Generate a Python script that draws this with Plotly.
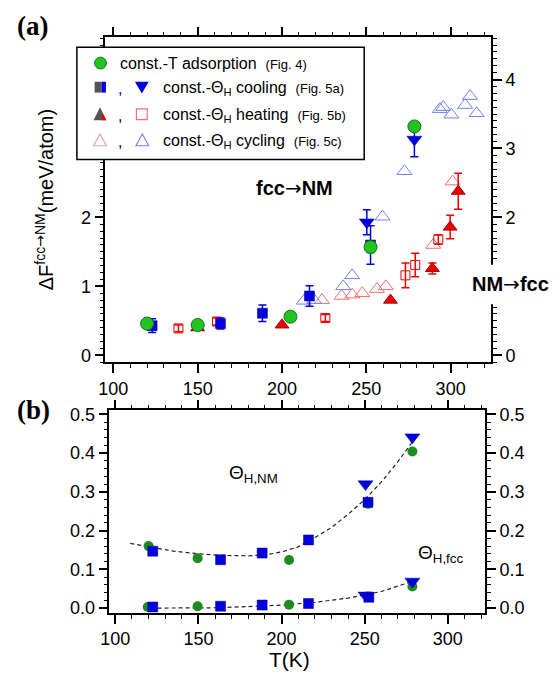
import plotly.graph_objects as go

W, H = 559, 684
FONT = "Liberation Sans, Arial, sans-serif"

# ---------------- Panel (a) data ----------------
adsT_T = [120, 150, 205, 252.5, 278.5]
adsT_F = [0.46, 0.44, 0.56, 1.57, 3.32]
adsT_err = [0, 0, 0, 0.08, 0.05]

cool_sq_T = [123, 163.5, 188.4, 216.3, 252.5]
cool_sq_F = [0.43, 0.46, 0.61, 0.86, 1.60]
cool_sq_err = [0.10, 0.08, 0.12, 0.15, 0.28]

cool_tri_T = [250.3, 278.5]
cool_tri_F = [1.93, 3.13]
cool_tri_err = [0.18, 0.25]

heat_tri_T = [150, 200, 264.3, 289.2, 299.7, 304.5]
heat_tri_F = [0.40, 0.44, 0.80, 1.26, 1.86, 2.38]
heat_tri_err = [0, 0, 0, 0.08, 0.17, 0.26]

heat_sq_T = [138.6, 161.5, 225.7, 273.2, 279.0, 292.7]
heat_sq_F = [0.39, 0.49, 0.54, 1.16, 1.31, 1.68]
heat_sq_err = [0.05, 0.05, 0.05, 0.18, 0.17, 0.07]

cyc_red_T = [223.7, 235.3, 241.7, 247.6, 256.3, 261.6, 289.7, 301.2]
cyc_red_F = [0.80, 0.86, 0.88, 0.90, 0.96, 1.00, 1.60, 2.52]

cyc_blue_T = [213, 219, 236.3, 241.6, 259.6, 272.6, 293.6, 295.6, 300.4, 308.6, 311.5, 315.4]
cyc_blue_F = [0.79, 0.80, 1.00, 1.16, 2.01, 2.67, 3.57, 3.60, 3.49, 3.63, 3.76, 3.51]

# ---------------- Panel (b) data ----------------
nm_green_T = [120, 149.5, 204.5, 252.1, 278.7]
nm_green_V = [0.160, 0.129, 0.124, 0.269, 0.404]
fcc_green_T = [119.5, 149.5, 204.5, 252.0, 278.7]
fcc_green_V = [0.003, 0.005, 0.009, 0.030, 0.056]

nm_sq_T = [122.5, 163.3, 188.3, 216.2, 252.0]
nm_sq_V = [0.147, 0.125, 0.142, 0.176, 0.273]
fcc_sq_T = [122.5, 163.3, 188.3, 216.2, 252.5]
fcc_sq_V = [0.003, 0.005, 0.008, 0.012, 0.028]

nm_tri_T = [250.5, 278.7]
nm_tri_V = [0.320, 0.441]
fcc_tri_T = [250.5, 278.7]
fcc_tri_V = [0.033, 0.069]

fit_nm_T = [109, 120, 135, 150, 165, 180, 190, 200, 210, 220, 230, 240, 250, 260, 270, 281]
fit_nm_V = [0.167, 0.158, 0.147, 0.140, 0.136, 0.135, 0.137, 0.145, 0.158, 0.182, 0.208, 0.242, 0.280, 0.325, 0.378, 0.442]
fit_fcc_T = [117, 140, 160, 180, 200, 220, 240, 260, 283]
fit_fcc_V = [0.0, 0.0, 0.001, 0.004, 0.008, 0.015, 0.026, 0.043, 0.075]

# tick labels
top_left_ticks = [0, 1, 2, 3, 4]
top_left_text = ["0", "1", "2", "3", "4"]
top_right_ticks = [0, 2, 3, 4]

GREEN = "#22c422"
GREEN_D = "#1e8c1e"
BLUE = "#0000e0"
RED = "#ee0000"
LRED = "#f07070"
LBLUE = "#7080ee"

fig = go.Figure()


def err(arr, color):
    return dict(type="data", array=arr, visible=True, color=color, thickness=1.5, width=4)


# panel (a) traces
fig.add_trace(go.Scatter(x=cyc_red_T, y=cyc_red_F, mode="markers",
                         marker=dict(symbol="triangle-up-open", size=13, color=LRED, line=dict(width=1)),
                         xaxis="x", yaxis="y"))
fig.add_trace(go.Scatter(x=cyc_blue_T, y=cyc_blue_F, mode="markers",
                         marker=dict(symbol="triangle-up-open", size=13, color=LBLUE, line=dict(width=1)),
                         xaxis="x", yaxis="y"))
fig.add_trace(go.Scatter(x=heat_sq_T, y=heat_sq_F, mode="markers", error_y=err(heat_sq_err, RED),
                         marker=dict(symbol="square-open", size=9, color=RED, line=dict(width=1)),
                         xaxis="x", yaxis="y"))
fig.add_trace(go.Scatter(x=heat_tri_T, y=heat_tri_F, mode="markers", error_y=err(heat_tri_err, RED),
                         marker=dict(symbol="triangle-up", size=12, color=RED, line=dict(width=1, color="#990000")),
                         xaxis="x", yaxis="y"))
fig.add_trace(go.Scatter(x=cool_sq_T, y=cool_sq_F, mode="markers", error_y=err(cool_sq_err, BLUE),
                         marker=dict(symbol="square", size=10, color=BLUE, line=dict(width=0.5, color="#000080")),
                         xaxis="x", yaxis="y"))
fig.add_trace(go.Scatter(x=cool_tri_T, y=cool_tri_F, mode="markers", error_y=err(cool_tri_err, BLUE),
                         marker=dict(symbol="triangle-down", size=13, color=BLUE, line=dict(width=0.5, color="#000080")),
                         xaxis="x", yaxis="y"))
fig.add_trace(go.Scatter(x=adsT_T, y=adsT_F, mode="markers", error_y=err(adsT_err, GREEN_D),
                         marker=dict(symbol="circle", size=13, color=GREEN, line=dict(width=1, color="#137013")),
                         xaxis="x", yaxis="y"))

# panel (b) traces
for tx, ty in [(fit_nm_T, fit_nm_V), (fit_fcc_T, fit_fcc_V)]:
    fig.add_trace(go.Scatter(x=tx, y=ty, mode="lines", line=dict(color="#222", width=1.2, dash="4px,3px"),
                             xaxis="x2", yaxis="y3"))
for tx, ty in [(nm_green_T, nm_green_V), (fcc_green_T, fcc_green_V)]:
    fig.add_trace(go.Scatter(x=tx, y=ty, mode="markers",
                             marker=dict(symbol="circle", size=10, color=GREEN_D, line=dict(width=0)),
                             xaxis="x2", yaxis="y3"))
for tx, ty in [(nm_sq_T, nm_sq_V), (fcc_sq_T, fcc_sq_V)]:
    fig.add_trace(go.Scatter(x=tx, y=ty, mode="markers",
                             marker=dict(symbol="square", size=10, color=BLUE, line=dict(width=0.5, color="#000080")),
                             xaxis="x2", yaxis="y3"))
for tx, ty in [(nm_tri_T, nm_tri_V), (fcc_tri_T, fcc_tri_V)]:
    fig.add_trace(go.Scatter(x=tx, y=ty, mode="markers",
                             marker=dict(symbol="triangle-down", size=13, color=BLUE, line=dict(width=0.5, color="#000080")),
                             xaxis="x2", yaxis="y3"))


def X(px):
    return px / W


def Y(py):
    return 1 - py / H


axis_common = dict(showline=True, linecolor="black", linewidth=1.5, ticks="outside", ticklen=9,
                   tickwidth=1.5, tickcolor="black", showgrid=False, zeroline=False,
                   tickfont=dict(family=FONT, size=18, color="black"))
minor_y = dict(ticks="outside", dtick=0.1, tick0=0, ticklen=4, tickwidth=1.2, tickcolor="black")

fig.update_layout(
    width=W, height=H, margin=dict(l=0, r=0, t=0, b=0),
    paper_bgcolor="white", plot_bgcolor="white", showlegend=False,
    xaxis=dict(domain=[X(98), X(490)], range=[95.3, 324], anchor="y", mirror="ticks",
               dtick=50, tick0=0, minor=dict(ticks="outside", dtick=10, ticklen=4, tickwidth=1.2, tickcolor="black"),
               **axis_common),
    yaxis=dict(domain=[Y(362), Y(32)], range=[-0.1, 4.61], anchor="x",
               tickmode="array", tickvals=top_left_ticks, ticktext=top_left_text,
               minor=minor_y, **axis_common),
    yaxis2=dict(domain=[Y(362), Y(32)], range=[-0.1, 4.61], anchor="x", overlaying="y", side="right",
                tickmode="array", tickvals=top_right_ticks,
                minor=minor_y, **axis_common),
    xaxis2=dict(domain=[X(102), X(484)], range=[96.4, 322.5], anchor="y3", mirror="ticks",
                dtick=50, tick0=0, minor=dict(ticks="outside", dtick=10, ticklen=4, tickwidth=1.2, tickcolor="black"),
                **axis_common),
    yaxis3=dict(domain=[Y(617), Y(411)], range=[-0.0127, 0.510], anchor="x2", dtick=0.1, tick0=0,
                tickformat=".1f",
                minor=dict(ticks="outside", dtick=0.02, tick0=0, ticklen=4, tickwidth=1.2, tickcolor="black"),
                **axis_common),
    yaxis4=dict(domain=[Y(617), Y(411)], range=[-0.0127, 0.510], anchor="x2", overlaying="y3", side="right",
                dtick=0.1, tick0=0, tickformat=".1f",
                minor=dict(ticks="outside", dtick=0.02, tick0=0, ticklen=4, tickwidth=1.2, tickcolor="black"),
                **axis_common),
)

fig.add_trace(go.Scatter(x=[None], y=[None], xaxis="x", yaxis="y2", showlegend=False))
fig.add_trace(go.Scatter(x=[None], y=[None], xaxis="x2", yaxis="y4", showlegend=False))

shapes = []
shapes.append(dict(type="rect", xref="paper", yref="paper", x0=X(69), x1=X(361), y0=Y(156), y1=Y(42),
                   line=dict(color="black", width=1.5), fillcolor="white", layer="above"))
shapes.append(dict(type="circle", xref="paper", yref="paper", x0=X(87), x1=X(99), y0=Y(64), y1=Y(52),
                   line=dict(color="#137013", width=1), fillcolor=GREEN, layer="above"))
shapes.append(dict(type="rect", xref="paper", yref="paper", x0=X(87), x1=X(94), y0=Y(88), y1=Y(77),
                   line=dict(width=0), fillcolor="#555555", layer="above"))
shapes.append(dict(type="rect", xref="paper", yref="paper", x0=X(94), x1=X(98.5), y0=Y(88), y1=Y(77),
                   line=dict(width=0), fillcolor=BLUE, layer="above"))


def tri(x0, x1, ytop, ybot, down=False):
    xm = (x0 + x1) / 2
    if down:
        return f"M{X(x0)},{Y(ytop)} L{X(x1)},{Y(ytop)} L{X(xm)},{Y(ybot)} Z"
    return f"M{X(xm)},{Y(ytop)} L{X(x1)},{Y(ybot)} L{X(x0)},{Y(ybot)} Z"


shapes.append(dict(type="path", xref="paper", yref="paper", path=tri(128, 142, 77, 89, down=True),
                   line=dict(width=0), fillcolor=BLUE, layer="above"))
shapes.append(dict(type="path", xref="paper", yref="paper", path=tri(86, 99, 103, 116),
                   line=dict(width=0), fillcolor="#555555", layer="above"))
shapes.append(dict(type="path", xref="paper", yref="paper",
                   path=f"M{X(95)},{Y(109)} L{X(99)},{Y(116)} L{X(94)},{Y(116)} Z",
                   line=dict(width=0), fillcolor=RED, layer="above"))
shapes.append(dict(type="rect", xref="paper", yref="paper", x0=X(129.5), x1=X(140.5), y0=Y(115.5), y1=Y(104.5),
                   line=dict(color=LRED, width=1.2), fillcolor="white", layer="above"))
shapes.append(dict(type="path", xref="paper", yref="paper", path=tri(86, 99, 130, 142),
                   line=dict(width=1.1, color="#e0a0a8"), fillcolor="white", layer="above"))
shapes.append(dict(type="path", xref="paper", yref="paper", path=tri(129, 142, 130, 142),
                   line=dict(width=1.1, color=LBLUE), fillcolor="white", layer="above"))
# white patch breaking the right axis behind the "NM→fcc" label
shapes.append(dict(type="rect", xref="paper", yref="paper", x0=X(458), x1=X(559), y0=Y(303), y1=Y(263),
                   line=dict(width=0), fillcolor="white", layer="above"))
fig.update_layout(shapes=shapes)

ann = []


def A(text, px, py, size=16, xanchor="left", color="black", bold=False, family=FONT, **kw):
    if bold:
        text = f"<b>{text}</b>"
    ann.append(dict(text=text, x=X(px), y=Y(py), xref="paper", yref="paper", xanchor=xanchor,
                    yanchor="middle", showarrow=False, font=dict(family=family, size=size, color=color), **kw))


small = "<span style='font-size:13px'>{}</span>"
ARROW = "<span style='font-family:DejaVu Sans;font-weight:normal'>→</span>"
A("const.-T adsorption  " + small.format("(Fig. 4)"), 111, 58)
A(",", 113, 84, size=16, xanchor="center", color=BLUE)
A("const.-Θ<sub>H</sub> cooling  " + small.format("(Fig. 5a)"), 154, 84)
A(",", 113, 111, size=16, xanchor="center")
A("const.-Θ<sub>H</sub> heating  " + small.format("(Fig. 5b)"), 154, 111)
A(",", 113, 138, size=16, xanchor="center")
A("const.-Θ<sub>H</sub> cycling  " + small.format("(Fig. 5c)"), 154, 138)

A("fcc" + ARROW + "NM", 290, 185, size=20, xanchor="center", bold=True)
A("NM" + ARROW + "fcc", 510, 283, size=20, xanchor="center", bold=True)

A("(a)", 6, 20, size=27, bold=True, family="Liberation Serif, Times New Roman, serif")
A("(b)", 6, 411, size=27, bold=True, family="Liberation Serif, Times New Roman, serif")

A("ΔF<sup>fcc" + ARROW + "NM</sup>(meV/atom)", 36, 197, size=20, xanchor="center", textangle=-90)
A("T(K)", 285, 664, size=21, xanchor="center")
A("Θ<sub>H,NM</sub>", 222, 476, size=19)
A("Θ<sub>H,fcc</sub>", 414, 557, size=19)
fig.update_layout(annotations=ann)

fig.write_html("out.html")
